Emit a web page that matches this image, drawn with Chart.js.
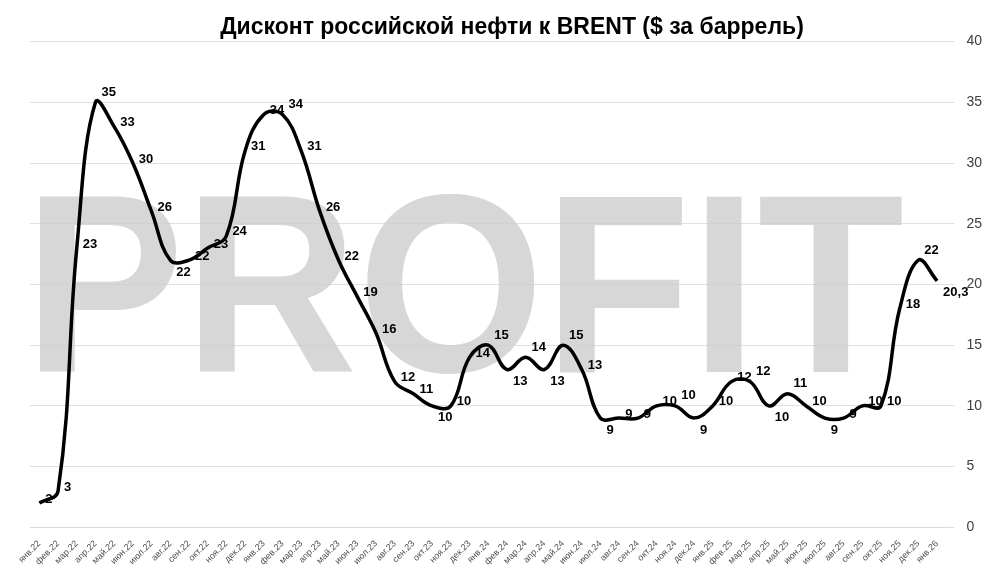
<!DOCTYPE html>
<html><head><meta charset="utf-8">
<script src="https://cdn.jsdelivr.net/npm/chart.js@4/dist/chart.umd.min.js"></script>
<style>body{margin:0;background:#fff}#w{width:1000px;height:572px;position:relative}</style>
</head><body><div id="w"><canvas id="c"></canvas></div>
<script>
const months = ["янв","фев","мар","апр","май","июн","июл","авг","сен","окт","ноя","дек"]
const labels = []
for (const y of ["22","23","24","25"]) for (const m of months) labels.push(m + "." + y)
labels.push("янв.26")
const discount = [2,3,23,35,33,30,26,22,22,23,24,31,
    34,34,31,26,22,19,16,12,11,10,10,14,
    15,13,14,13,15,13,9,9,9,10,10,9,
    10,12,12,10,11,10,9,9,10,10,18,22,
    20.3]
const yTicks = [0,5,10,15,20,25,30,35,40]

const watermark = {
    id: "watermark",
    beforeDatasetsDraw(chart) {
        const ctx = chart.ctx
        ctx.save()
        ctx.fillStyle = "rgba(205,205,205,0.8)"
        ctx.font = "bold 255px 'Liberation Sans'"
        ctx.textBaseline = "alphabetic"
        ctx.textAlign = "left"
        const w = ctx.measureText("PROFIT").width
        ctx.translate(24, 372)
        ctx.scale(880 / w, 1)
        ctx.fillText("PROFIT", 0, 0)
        ctx.restore()
    }
}
const valueLabels = {
    id: "valueLabels",
    afterDatasetsDraw(chart) {
        const ctx = chart.ctx
        const pts = chart.getDatasetMeta(0).data
        ctx.save()
        ctx.font = "bold 13px 'Liberation Sans'"
        ctx.fillStyle = "#000"
        ctx.textBaseline = "middle"
        pts.forEach((p, i) => {
            const v = discount[i]
            const prev = discount[i - 1] ?? v, next = discount[i + 1] ?? v
            let dx = 6, dy = -4
            if (v < prev && v <= next) dy = 12
            else if (v >= prev && v > next) dy = -10
            ctx.fillText(String(v).replace(".", ","), p.x + dx, p.y + dy)
        })
        ctx.restore()
    }
}

new Chart(document.getElementById("c"), {
    type: "line",
    data: {
        labels: labels,
        datasets: [{
            data: discount,
            borderColor: "#000",
            borderWidth: 3.5,
            pointRadius: 0,
            tension: 0.4
        }]
    },
    options: {
        responsive: true,
        maintainAspectRatio: false,
        animation: false,
        layout: { padding: { left: 30, right: 6, top: 0, bottom: 2 } },
        plugins: {
            legend: { display: false },
            title: {
                display: true,
                text: "Дисконт российской нефти к BRENT ($ за баррель)",
                font: { family: "'Liberation Sans'", size: 23, weight: "bold" },
                color: "#000",
                padding: { top: 14, bottom: 0 }
            }
        },
        scales: {
            x: {
                offset: true,
                grid: { display: false },
                border: { color: "#d9d9d9" },
                ticks: { maxRotation: 45, minRotation: 45, autoSkip: false,
                    font: { family: "'Liberation Sans'", size: 9 }, color: "#505050" }
            },
            y: {
                position: "right",
                min: 0, max: 40,
                afterBuildTicks(axis) { axis.ticks = yTicks.map(v => ({ value: v })) },
                grid: { color: "#e0e0e0" },
                border: { display: false },
                ticks: { font: { family: "'Liberation Sans'", size: 14 }, color: "#404040", padding: 12 }
            }
        }
    },
    plugins: [watermark, valueLabels]
})
</script></body></html>
